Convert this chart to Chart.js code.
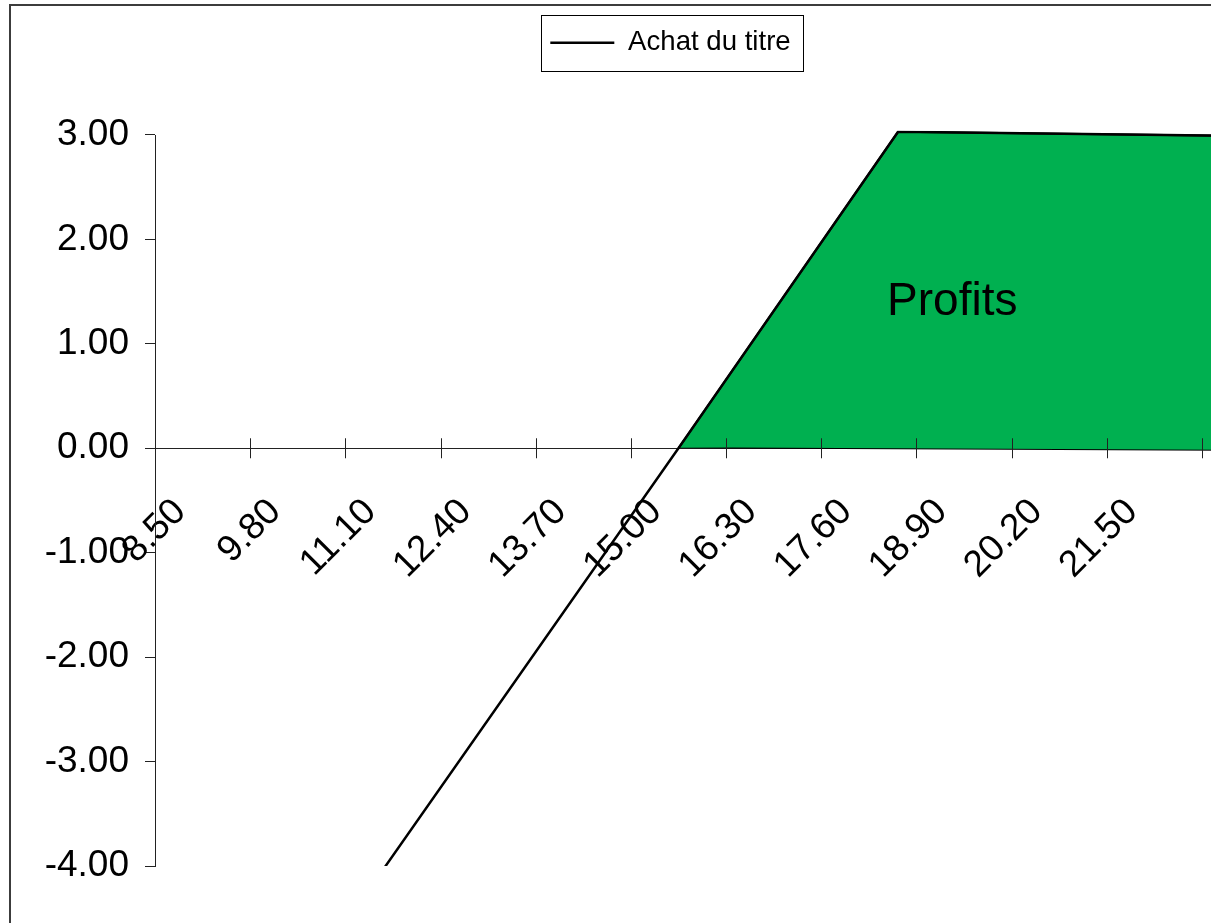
<!DOCTYPE html>
<html><head><meta charset="utf-8">
<script src="https://cdn.jsdelivr.net/npm/chart.js@4.4.0/dist/chart.umd.min.js"></script>
<style>
html,body{margin:0;padding:0;background:#fff;overflow:hidden;width:1211px;height:923px;}
#wrap{position:absolute;left:9px;top:4px;width:1326px;height:1000px;border:2px solid #3c3c3c;background:#fff;}
canvas{display:block;}
</style></head><body>
<div id="wrap"><canvas id="c" width="1326" height="1000"></canvas></div>
<script>
// ---- data ----
const seriesName = 'Achat du titre';
const stockX = [8.5, 15.65, 18.65, 24.55];
const stockY = [-7.15, 0, 3.03, 2.98];
const profitTopX = [15.65, 18.65, 24.55];
const profitTopY = [0, 3.03, 2.98];
const profitBottomX = [15.65, 24.55];
const profitBottomY = [0.01, -0.02];
const xTickValues = [8.5, 9.8, 11.1, 12.4, 13.7, 15.0, 16.3, 17.6, 18.9, 20.2, 21.5, 22.8];
const xTickLabels = ['8.50', '9.80', '11.10', '12.40', '13.70', '15.00', '16.30', '17.60', '18.90', '20.20', '21.50'];
const yTickValues = [-4, -3, -2, -1, 0, 1, 2, 3];
const yMin = -4, yMax = 3, yHeadroom = 3.04;
const xMin = 8.5, xMax = 24.55;
const profitLabel = {text: 'Profits', x: 19.39, y: 1.40};

const FONT = "'Liberation Sans', Arial, sans-serif";
const toPts = (xs, ys) => xs.map((x, i) => ({x: x, y: ys[i]}));

const legendPatch = {
  id: 'legendPatch',
  beforeUpdate(chart) {
    const lg = chart.legend;
    if (lg && !lg._patched) {
      const orig = lg.fit;
      lg.fit = function () { orig.call(this); this.height = 111.8; };
      lg._patched = true;
    }
  }
};

const extras = {
  id: 'extras',
  afterDatasetsDraw(chart) {
    const {ctx, scales: {x, y}} = chart;
    ctx.save();
    ctx.font = '46px ' + FONT;
    ctx.fillStyle = '#000';
    ctx.textAlign = 'center';
    ctx.textBaseline = 'middle';
    ctx.fillText(profitLabel.text, x.getPixelForValue(profitLabel.x), y.getPixelForValue(profitLabel.y));
    ctx.restore();
  },
  afterDraw(chart) {
    const {ctx, scales: {x, y}} = chart;
    ctx.save();
    ctx.strokeStyle = '#222';
    ctx.lineWidth = 1;
    // value axis line from yMin to yMax
    const lx = Math.round(chart.chartArea.left) + 0.5;
    ctx.beginPath();
    ctx.moveTo(lx, Math.round(y.getPixelForValue(yMax)));
    ctx.lineTo(lx, Math.round(y.getPixelForValue(yMin)) + 1);
    ctx.stroke();
    // crossing tick marks on the category axis
    const y0 = y.getPixelForValue(0);
    x.ticks.forEach(t => {
      const px = Math.round(x.getPixelForValue(t.value)) + 0.5;
      ctx.beginPath();
      ctx.moveTo(px, y0 - 10);
      ctx.lineTo(px, y0 + 10);
      ctx.stroke();
    });
    // legend frame
    const lg = chart.legend;
    if (lg && lg.legendHitBoxes && lg.legendHitBoxes.length) {
      const hb = lg.legendHitBoxes[0];
      const cy = hb.top + hb.height / 2;
      ctx.strokeStyle = '#000';
      ctx.strokeRect(Math.round(hb.left - 9) + 0.5, Math.round(cy - 28) + 0.5,
        Math.round(hb.width + 22), 56);
    }
    ctx.restore();
  }
};

new Chart(document.getElementById('c'), {
  type: 'line',
  data: {
    datasets: [
      {label: seriesName, data: toPts(stockX, stockY), borderColor: '#000', borderWidth: 2.5,
        pointRadius: 0, fill: false, tension: 0},
      {label: 'top', data: toPts(profitTopX, profitTopY), borderColor: '#000', borderWidth: 2,
        backgroundColor: '#00B050', pointRadius: 0, fill: '+1', tension: 0},
      {label: 'bottom', data: toPts(profitBottomX, profitBottomY), borderColor: '#000', borderWidth: 2,
        pointRadius: 0, fill: false, tension: 0}
    ]
  },
  options: {
    responsive: false,
    animation: false,
    devicePixelRatio: 1,
    layout: {padding: {left: 0, right: 7, top: 13, bottom: 140}},
    plugins: {
      legend: {
        display: true, position: 'top',
        labels: {
          filter: item => item.datasetIndex === 0,
          usePointStyle: true, pointStyle: 'line', pointStyleWidth: 64,
          font: {family: FONT, size: 27.6}, color: '#000', padding: 10
        }
      },
      tooltip: {enabled: false}
    },
    scales: {
      x: {
        type: 'linear', position: {y: 0}, min: xMin, max: xMax,
        afterBuildTicks: s => { s.ticks = xTickValues.map(v => ({value: v})); },
        ticks: {
          autoSkip: false, maxRotation: 45, minRotation: 45, padding: 42, labelOffset: 25,
          font: {family: FONT, size: 37}, color: '#000',
          callback: (v, i) => (i < xTickLabels.length ? xTickLabels[i] : '')
        },
        grid: {display: true, drawOnChartArea: false, drawTicks: false},
        border: {display: true, color: '#222', width: 1}
      },
      y: {
        type: 'linear', min: yMin, max: yHeadroom,
        afterBuildTicks: s => { s.ticks = yTickValues.map(v => ({value: v})); },
        ticks: {padding: 16, font: {family: FONT, size: 37}, color: '#000',
          callback: v => Number(v).toFixed(2)},
        grid: {drawOnChartArea: false, drawTicks: true, tickLength: 10, color: '#222'},
        border: {display: false},
        afterFit: s => { s.width = 144; }
      }
    }
  },
  plugins: [legendPatch, extras]
});
</script>
</body></html>
